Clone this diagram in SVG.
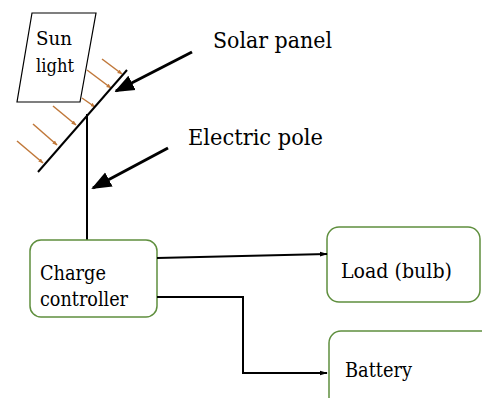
<svg xmlns="http://www.w3.org/2000/svg" width="482" height="398" viewBox="0 0 482 398">
<defs>
<style>
.t{font-family:"DejaVu Serif","Noto Serif",serif;fill:#000}
.box{fill:#fff;stroke:#5f8f3e;stroke-width:1.5}
.ray{stroke:#c0783a;stroke-width:1.5;fill:none}
.conn{stroke:#000;stroke-width:2;fill:none}
.call{stroke:#000;stroke-width:3;fill:none}
</style>
<marker id="oa" viewBox="0 0 10 10" refX="9" refY="5" markerWidth="5" markerHeight="5" orient="auto" markerUnits="userSpaceOnUse">
<path d="M0,1 L10,5 L0,9 z" fill="#c0783a"/>
</marker>
<marker id="ba" viewBox="0 0 10 10" refX="9" refY="5" markerWidth="20" markerHeight="20" orient="auto" markerUnits="userSpaceOnUse">
<path d="M0,1 L10,5 L0,9 z" fill="#000"/>
</marker>
<marker id="sa" viewBox="0 0 10 10" refX="9" refY="5" markerWidth="8" markerHeight="8" orient="auto" markerUnits="userSpaceOnUse">
<path d="M0,2 L10,5 L0,8 z" fill="#000"/>
</marker>
</defs>
<rect width="482" height="398" fill="#fff"/>
<g id="sunlight">
<polygon points="32,13 96,13 80,102 17,102" fill="#fff" stroke="#000" stroke-width="1.2"/>
<text class="t" x="36" y="45" font-size="19" textLength="36" lengthAdjust="spacingAndGlyphs">Sun</text>
<text class="t" x="36" y="72" font-size="19" textLength="38" lengthAdjust="spacingAndGlyphs">light</text>
</g>
<g id="rays">
<line class="ray" x1="102" y1="59" x2="122" y2="74" marker-end="url(#oa)"/>
<line class="ray" x1="87" y1="70" x2="111" y2="88" marker-end="url(#oa)"/>
<line class="ray" x1="82" y1="98" x2="95" y2="107" marker-end="url(#oa)"/>
<line class="ray" x1="53" y1="106" x2="76" y2="125" marker-end="url(#oa)"/>
<line class="ray" x1="33" y1="124" x2="57" y2="145" marker-end="url(#oa)"/>
<line class="ray" x1="17" y1="141" x2="43" y2="163" marker-end="url(#oa)"/>
</g>
<g id="solar-panel">
<line x1="38" y1="172" x2="127" y2="70" stroke="#000" stroke-width="2"/>
</g>
<g id="pole">
<line x1="87" y1="114" x2="87" y2="240" stroke="#000" stroke-width="2"/>
</g>
<g id="label-solar">
<text class="t" x="213" y="48" font-size="23" textLength="119" lengthAdjust="spacingAndGlyphs">Solar panel</text>
</g>
<g id="label-pole">
<text class="t" x="188" y="145" font-size="23" textLength="135" lengthAdjust="spacingAndGlyphs">Electric pole</text>
</g>
<g id="charge-controller">
<rect class="box" x="30" y="240" width="127" height="77" rx="11"/>
<text class="t" x="40" y="280" font-size="20" textLength="66" lengthAdjust="spacingAndGlyphs">Charge</text>
<text class="t" x="40" y="306" font-size="20" textLength="88" lengthAdjust="spacingAndGlyphs">controller</text>
</g>
<g id="load">
<rect class="box" x="327" y="227" width="153" height="75" rx="12"/>
<text class="t" x="341" y="278" font-size="20" textLength="111" lengthAdjust="spacingAndGlyphs">Load (bulb)</text>
</g>
<g id="battery">
<rect class="box" x="329" y="331" width="170" height="90" rx="12"/>
<text class="t" x="345" y="377" font-size="20" textLength="67" lengthAdjust="spacingAndGlyphs">Battery</text>
</g>
<g id="connectors">
<line class="call" x1="192" y1="52" x2="116" y2="91" marker-end="url(#ba)"/>
<line class="call" x1="168" y1="148" x2="93" y2="188" marker-end="url(#ba)"/>
<line class="conn" x1="157" y1="258" x2="327" y2="254" marker-end="url(#sa)"/>
<polyline class="conn" points="157,297 243,297 243,373 327,373" marker-end="url(#sa)"/>
</g>
</svg>
